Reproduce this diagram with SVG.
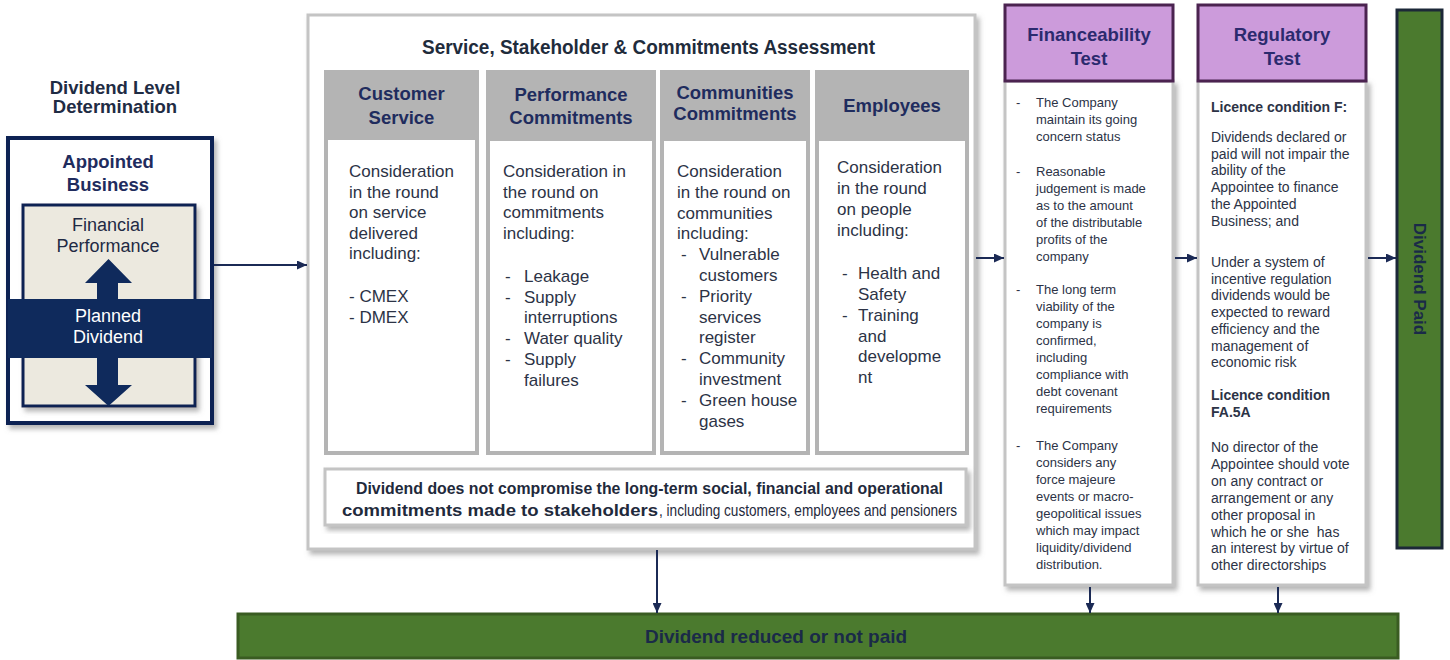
<svg xmlns="http://www.w3.org/2000/svg" width="1450" height="660" viewBox="0 0 1450 660">
<style>
text{font-family:"Liberation Sans",Arial,sans-serif}
.nar{font-family:"Liberation Sans Narrow","Liberation Sans",Arial,sans-serif}
.b{font-weight:bold}
.navy{fill:#1d2b5c}
.ttl{fill:#1f2c44;font-size:18.5px;font-weight:bold}
.hdr{fill:#1f2c5e;font-size:18.5px;font-weight:bold;text-anchor:middle}
.body{fill:#2c3346;font-size:17px}
.fin{fill:#2c3346;font-size:13px}
.reg{fill:#2c3346;font-size:14px}
.col{fill:#ffffff;stroke:#b4b4b4;stroke-width:4}
.colh{fill:#b4b4b4}
.panel{fill:#ffffff;stroke:#c4c4c4;stroke-width:3}
.purp{fill:#cc9bdb;stroke:#4b2350;stroke-width:3}
.green{fill:#4b7a2e;stroke:#3a5c22;stroke-width:3}
.conn{stroke:#1b2a55;stroke-width:2;fill:none}
</style>
<defs>
<marker id="ah" markerUnits="userSpaceOnUse" markerWidth="10" markerHeight="9" refX="10" refY="4.5" orient="auto">
<path d="M0,0 L10,4.5 L0,9 z" fill="#1b2a55"/>
</marker>
<filter id="sh" x="-10%" y="-10%" width="125%" height="125%">
<feDropShadow dx="3" dy="4" stdDeviation="2.5" flood-color="#777" flood-opacity="0.55"/>
</filter>
</defs>

<g id="dividend-level-determination">
<text class="ttl" x="115" y="94" text-anchor="middle">Dividend Level</text>
<text class="ttl" x="115" y="113" text-anchor="middle">Determination</text>
</g>

<g id="appointed-business">
<rect x="8" y="138" width="204" height="285" fill="#ffffff" stroke="#0f2152" stroke-width="4" filter="url(#sh)"/>
<text class="hdr" x="108" y="168">Appointed</text>
<text class="hdr" x="108" y="191">Business</text>
<rect x="23" y="205" width="172" height="201" fill="#ece9df" stroke="#0f2152" stroke-width="3" filter="url(#sh)"/>
<text x="108" y="231" text-anchor="middle" font-size="18" fill="#1f2a44">Financial</text>
<text x="108" y="252" text-anchor="middle" font-size="18" fill="#1f2a44">Performance</text>
<polygon points="108.5,259 132,283 118,283 118,300 97,300 97,283 85,283" fill="#0f2a5c"/>
<rect x="8" y="299" width="204" height="59" fill="#0f2a5c"/>
<polygon points="97,357 118,357 118,385 132,385 108.5,406 85,385 97,385" fill="#0f2a5c"/>
<text x="108" y="322" text-anchor="middle" font-size="18" fill="#ffffff">Planned</text>
<text x="108" y="343" text-anchor="middle" font-size="18" fill="#ffffff">Dividend</text>
</g>

<g id="assessment">
<rect x="308" y="15" width="667" height="534" class="panel" filter="url(#sh)"/>
<text class="nar b" x="422" y="54" font-size="20" fill="#1f2c3c" textLength="453" lengthAdjust="spacingAndGlyphs">Service, Stakeholder &amp; Commitments Assessment</text>
</g>

<g id="customer-service">
<rect x="326" y="72" width="151" height="381" class="col"/>
<rect x="326" y="72" width="151" height="68" class="colh"/>
<text class="hdr" x="401.5" y="99.5">Customer</text>
<text class="hdr" x="401.5" y="123.5">Service</text>
<text class="body" x="349" y="177">Consideration</text>
<text class="body" x="349" y="197.5">in the round</text>
<text class="body" x="349" y="218">on service</text>
<text class="body" x="349" y="238.5">delivered</text>
<text class="body" x="349" y="259">including:</text>
<text class="body" x="349" y="302">- CMEX</text>
<text class="body" x="349" y="322.5">- DMEX</text>
</g>

<g id="performance-commitments">
<rect x="488" y="72" width="166" height="381" class="col"/>
<rect x="488" y="72" width="166" height="69" class="colh"/>
<text class="hdr" x="571" y="100.5">Performance</text>
<text class="hdr" x="571" y="123.5">Commitments</text>
<text class="body" x="503" y="177">Consideration in</text>
<text class="body" x="503" y="197.5">the round on</text>
<text class="body" x="503" y="218">commitments</text>
<text class="body" x="503" y="238.5">including:</text>
<text class="body" x="505" y="282">-</text><text class="body" x="524" y="282">Leakage</text>
<text class="body" x="505" y="302.7">-</text><text class="body" x="524" y="302.7">Supply</text>
<text class="body" x="524" y="323.4">interruptions</text>
<text class="body" x="505" y="344.1">-</text><text class="body" x="524" y="344.1">Water quality</text>
<text class="body" x="505" y="364.8">-</text><text class="body" x="524" y="364.8">Supply</text>
<text class="body" x="524" y="385.5">failures</text>
</g>

<g id="communities-commitments">
<rect x="662" y="72" width="146" height="381" class="col"/>
<rect x="662" y="72" width="146" height="69" class="colh"/>
<text class="hdr" x="735" y="98.5">Communities</text>
<text class="hdr" x="735" y="120">Commitments</text>
<text class="body" x="677" y="177">Consideration</text>
<text class="body" x="677" y="197.8">in the round on</text>
<text class="body" x="677" y="218.6">communities</text>
<text class="body" x="677" y="239.4">including:</text>
<text class="body" x="681" y="260.2">-</text><text class="body" x="699" y="260.2">Vulnerable</text>
<text class="body" x="699" y="281">customers</text>
<text class="body" x="681" y="301.8">-</text><text class="body" x="699" y="301.8">Priority</text>
<text class="body" x="699" y="322.6">services</text>
<text class="body" x="699" y="343.4">register</text>
<text class="body" x="681" y="364.2">-</text><text class="body" x="699" y="364.2">Community</text>
<text class="body" x="699" y="385">investment</text>
<text class="body" x="681" y="405.8">-</text><text class="body" x="699" y="405.8">Green house</text>
<text class="body" x="699" y="426.6">gases</text>
</g>

<g id="employees">
<rect x="817" y="72" width="150" height="381" class="col"/>
<rect x="817" y="72" width="150" height="69" class="colh"/>
<text class="hdr" x="892" y="111.5">Employees</text>
<text class="body" x="837" y="173">Consideration</text>
<text class="body" x="837" y="194">in the round</text>
<text class="body" x="837" y="215">on people</text>
<text class="body" x="837" y="235.5">including:</text>
<text class="body" x="842" y="279">-</text><text class="body" x="858" y="279">Health and</text>
<text class="body" x="858" y="300">Safety</text>
<text class="body" x="842" y="321">-</text><text class="body" x="858" y="321">Training</text>
<text class="body" x="858" y="341.5">and</text>
<text class="body" x="858" y="362">developme</text>
<text class="body" x="858" y="383">nt</text>
</g>

<g id="dividend-commitments-note">
<rect x="325" y="469" width="641" height="56" class="panel" filter="url(#sh)"/>
<text class="nar b" x="356" y="494" font-size="16.5" fill="#1f2a3c" textLength="587" lengthAdjust="spacingAndGlyphs">Dividend does not compromise the long-term social, financial and operational</text>
<text class="nar b" x="342" y="516" font-size="16.5" fill="#1f2a3c" textLength="316" lengthAdjust="spacingAndGlyphs">commitments made to stakeholders</text>
<text class="nar" x="659" y="516" font-size="16.5" fill="#1f2a3c" textLength="298" lengthAdjust="spacingAndGlyphs">, including customers, employees and pensioners</text>
</g>

<g id="financeability-test">
<rect x="1005" y="81" width="168" height="504" class="panel" filter="url(#sh)"/>
<rect x="1005" y="5" width="168" height="76" class="purp"/>
<text class="hdr" x="1089" y="41" fill="#2b2a6e" style="fill:#2b2a6e">Financeability</text>
<text class="hdr" x="1089" y="65" style="fill:#2b2a6e">Test</text>
<text class="fin" x="1016" y="107">-</text><text class="fin" x="1036" y="107">The Company</text>
<text class="fin" x="1036" y="124">maintain its going</text>
<text class="fin" x="1036" y="141">concern status</text>
<text class="fin" x="1016" y="176">-</text><text class="fin" x="1036" y="176">Reasonable</text>
<text class="fin" x="1036" y="193">judgement is made</text>
<text class="fin" x="1036" y="210">as to the amount</text>
<text class="fin" x="1036" y="227">of the distributable</text>
<text class="fin" x="1036" y="244">profits of the</text>
<text class="fin" x="1036" y="261">company</text>
<text class="fin" x="1016" y="294">-</text><text class="fin" x="1036" y="294">The long term</text>
<text class="fin" x="1036" y="311">viability of the</text>
<text class="fin" x="1036" y="328">company is</text>
<text class="fin" x="1036" y="345">confirmed,</text>
<text class="fin" x="1036" y="362">including</text>
<text class="fin" x="1036" y="379">compliance with</text>
<text class="fin" x="1036" y="396">debt covenant</text>
<text class="fin" x="1036" y="413">requirements</text>
<text class="fin" x="1016" y="450">-</text><text class="fin" x="1036" y="450">The Company</text>
<text class="fin" x="1036" y="467">considers any</text>
<text class="fin" x="1036" y="484">force majeure</text>
<text class="fin" x="1036" y="501">events or macro-</text>
<text class="fin" x="1036" y="518">geopolitical issues</text>
<text class="fin" x="1036" y="535">which may impact</text>
<text class="fin" x="1036" y="552">liquidity/dividend</text>
<text class="fin" x="1036" y="569">distribution.</text>
</g>

<g id="regulatory-test">
<rect x="1198" y="81" width="168" height="504" class="panel" filter="url(#sh)"/>
<rect x="1198" y="5" width="168" height="76" class="purp"/>
<text class="hdr" x="1282" y="41" style="fill:#2b2a6e">Regulatory</text>
<text class="hdr" x="1282" y="65" style="fill:#2b2a6e">Test</text>
<text class="reg b" x="1211" y="112">Licence condition F:</text>
<text class="reg" x="1211" y="142">Dividends declared or</text>
<text class="reg" x="1211" y="158.7">paid will not impair the</text>
<text class="reg" x="1211" y="175.4">ability of the</text>
<text class="reg" x="1211" y="192.1">Appointee to finance</text>
<text class="reg" x="1211" y="208.8">the Appointed</text>
<text class="reg" x="1211" y="225.5">Business; and</text>
<text class="reg" x="1211" y="267">Under a system of</text>
<text class="reg" x="1211" y="283.7">incentive regulation</text>
<text class="reg" x="1211" y="300.4">dividends would be</text>
<text class="reg" x="1211" y="317.1">expected to reward</text>
<text class="reg" x="1211" y="333.8">efficiency and the</text>
<text class="reg" x="1211" y="350.5">management of</text>
<text class="reg" x="1211" y="367.2">economic risk</text>
<text class="reg b" x="1211" y="400">Licence condition</text>
<text class="reg b" x="1211" y="416.7">FA.5A</text>
<text class="reg" x="1211" y="452">No director of the</text>
<text class="reg" x="1211" y="468.9">Appointee should vote</text>
<text class="reg" x="1211" y="485.8">on any contract or</text>
<text class="reg" x="1211" y="502.7">arrangement or any</text>
<text class="reg" x="1211" y="519.6">other proposal in</text>
<text class="reg" x="1211" y="536.5" xml:space="preserve">which he or she  has</text>
<text class="reg" x="1211" y="553.4">an interest by virtue of</text>
<text class="reg" x="1211" y="570.3">other directorships</text>
</g>

<g id="dividend-paid">
<rect x="1397" y="10" width="45" height="538" fill="#4b7a2e" stroke="#1c2838" stroke-width="3"/>
<text class="b" x="0" y="0" font-size="17" fill="#1a2a48" text-anchor="middle" transform="translate(1413.5,279) rotate(90)">Dividend Paid</text>
</g>

<g id="dividend-reduced">
<rect x="238" y="614" width="1160" height="44" class="green"/>
<text class="nar b" x="645" y="643" font-size="19" fill="#1a2a48" textLength="262" lengthAdjust="spacingAndGlyphs">Dividend reduced or not paid</text>
</g>

<g id="connectors">
<line class="conn" x1="214" y1="265" x2="307" y2="265" marker-end="url(#ah)"/>
<line class="conn" x1="657" y1="550" x2="657" y2="613" marker-end="url(#ah)"/>
<line class="conn" x1="976" y1="258" x2="1004" y2="258" marker-end="url(#ah)"/>
<line class="conn" x1="1175" y1="258" x2="1197" y2="258" marker-end="url(#ah)"/>
<line class="conn" x1="1368" y1="258" x2="1396" y2="258" marker-end="url(#ah)"/>
<line class="conn" x1="1090" y1="587" x2="1090" y2="613" marker-end="url(#ah)"/>
<line class="conn" x1="1278" y1="587" x2="1278" y2="613" marker-end="url(#ah)"/>
</g>
</svg>
